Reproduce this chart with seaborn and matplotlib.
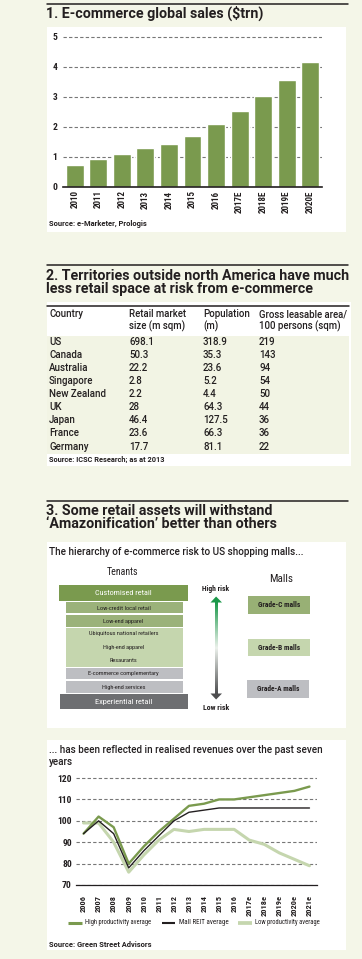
import matplotlib
matplotlib.use("Agg")
import matplotlib.pyplot as plt
from matplotlib.patches import Rectangle, Polygon
from matplotlib.colors import LinearSegmentedColormap
from matplotlib import font_manager
import numpy as np
import pandas as pd
import seaborn as sns

# --- chart 1: e-commerce global sales ($trn)
sales_years = ["2010", "2011", "2012", "2013", "2014", "2015", "2016",
               "2017E", "2018E", "2019E", "2020E"]
sales_trn = [0.73, 0.93, 1.1, 1.3, 1.43, 1.7, 2.1, 2.53, 3.04, 3.56, 4.17]

# --- chart 2: retail space table
table_headers = ["Country", "Retail market\nsize (m sqm)", "Population\n(m)",
                 "Gross leasable area/\n100 persons (sqm)"]
countries = ["US", "Canada", "Australia", "Singapore", "New Zealand", "UK",
             "Japan", "France", "Germany"]
retail_size = ["698.1", "50.3", "22.2", "2.8", "2.2", "28", "46.4", "23.6", "17.7"]
population = ["318.9", "35.3", "23.6", "5.2", "4.4", "64.3", "127.5", "66.3", "81.1"]
gla_per_100 = ["219", "143", "94", "54", "50", "44", "36", "36", "22"]

# --- chart 3a: risk hierarchy
tenant_tiers = ["Customised retail", "Low-credit local retail", "Low-end apparel",
                "Ubiquitous national retailers", "High-end apparel", "Resaurants",
                "E-commerce complementary", "High-end services", "Experiential retail"]
mall_grades = ["Grade-C malls", "Grade-B malls", "Grade-A malls"]

# --- chart 3b: realised revenues
rev_years = ["2006", "2007", "2008", "2009", "2010", "2011", "2012", "2013", "2014",
             "2015", "2016", "2017e", "2018e", "2019e", "2020e", "2021e"]
high_prod = [94, 102, 97, 80, 88, 95, 101, 107, 108, 110, 110, 111, 112, 113, 114, 116]
mall_reit = [94, 100, 94, 78, 86, 93, 100, 104, 105, 106, 106, 106, 106, 106, 106, 106]
low_prod = [99, 99, 90, 76, 84, 91, 96, 95, 96, 96, 96, 91, 89, 85, 82, 79]

GREEN = "#7A9A4E"
MID_GREEN = "#9BB27A"
LIGHT_GREEN = "#C5D6AE"
GREY = "#BDBEC2"
DARK_GREY = "#6D6E71"
INK = "#231F20"
PAGE = "#F4F6E8"

sns.set_style("white")
plt.rcParams["font.family"] = ["Roboto", "DejaVu Sans"]
names = {f.name for f in font_manager.fontManager.ttflist}
NARROW = next((n for n in ["Liberation Sans Narrow", "Roboto Condensed",
                           "Open Sans Condensed", "Roboto"] if n in names), "DejaVu Sans")

W, H = 362, 959
fig = plt.figure(figsize=(W / 100, H / 100), dpi=100, facecolor=PAGE)
renderer = fig.canvas.get_renderer()


def px_axes(x0, y0, x1, y1):
    return fig.add_axes([x0 / W, 1 - y1 / H, (x1 - x0) / W, (y1 - y0) / H])


# background layer in pixel coordinates
bg = fig.add_axes([0, 0, 1, 1])
bg.set_facecolor(PAGE)
bg.set_xlim(0, W)
bg.set_ylim(H, 0)
bg.axis("off")


def fit(x, y, s, width, **kw):
    """place text and scale its size so it spans `width` pixels"""
    t = bg.text(x, y, s, **kw)
    w = t.get_window_extent(renderer).width
    t.set_fontsize(t.get_fontsize() * width / w)
    return t


def fitted_size(s, width, **kw):
    t = fit(100, 100, s, width, **kw)
    size = t.get_fontsize()
    t.remove()
    return size


for (x0, y0, x1, y1) in [(47, 27, 346, 232), (47, 302, 351, 466),
                         (47, 542, 346, 728), (47, 740, 346, 950)]:
    bg.add_patch(Rectangle((x0, y0), x1 - x0, y1 - y0, color="white", lw=0))
bg.add_patch(Rectangle((47, 336), 302, 118, color="#F2F4E4", lw=0))

for y in [3.5, 265, 501]:
    bg.plot([47, 348], [y, y], color=INK, lw=1.1)

tkw = dict(fontsize=10, fontweight="bold", color=INK, va="center", ha="left")
tkw["fontsize"] = fitted_size("2. Territories outside north America have much", 302, **tkw)
bg.text(46, 13.5, "1. E-commerce global sales ($trn)", **tkw)
bg.text(46, 276, "2. Territories outside north America have much", **tkw)
bg.text(46, 288.5, "less retail space at risk from e-commerce", **tkw)
bg.text(46, 511, "3. Some retail assets will withstand", **tkw)
bg.text(46, 523.5, "\u2018Amazonification\u2019 better than others", **tkw)

skw = dict(fontsize=6, fontweight="bold", color=INK, va="center", ha="left")
fit(49, 224, "Source: e-Marketer, Prologis", 98, **skw)
fit(49, 460, "Source: ICSC Research; as at 2013", 116, **skw)
fit(49, 945, "Source: Green Street Advisors", 102, **skw)

# table
bg.plot([47, 349], [306, 306], color=INK, lw=1.1)
col_x = [49, 129, 203, 259]
hkw = dict(fontsize=7, fontweight="medium", color=INK, va="top", ha="left",
           linespacing=1.2)
hkw["fontsize"] = fitted_size(table_headers[3], 89, **hkw)
for cx, head in zip(col_x, table_headers):
    bg.text(cx, 309, head, **hkw)
row_size = fitted_size("New Zealand", 57, fontsize=7, fontweight="medium")
row_y0, row_dy = 341.8, 13.1
for i, row in enumerate(zip(countries, retail_size, population, gla_per_100)):
    for cx, cell in zip(col_x, row):
        bg.text(cx, row_y0 + i * row_dy, cell, fontsize=row_size, fontweight="medium",
                color=INK, va="center", ha="left")

# hierarchy diagram
fit(49, 552, "The hierarchy of e-commerce risk to US shopping malls...", 256,
    fontsize=7, fontweight="medium", color=INK, va="center")
nkw = dict(fontsize=8, color=INK, ha="center", va="center", family=NARROW)
fit(122, 572, "Tenants", 32, **nkw)
fit(281, 579, "Malls", 24, **nkw)

tier_boxes = [(59, 585, 188, 601, GREEN), (66, 602, 183, 613, MID_GREEN),
              (66, 615, 183, 627, MID_GREEN), (66, 628, 183, 667, LIGHT_GREEN),
              (66, 668, 183, 679, GREY), (66, 681, 183, 693, GREY),
              (60, 694, 188, 709, DARK_GREY)]
for (x0, y0, x1, y1, fc) in tier_boxes:
    bg.add_patch(Rectangle((x0, y0), x1 - x0, y1 - y0, color=fc, lw=0))

tier_text = [(593, 57, "white"), (608, 55, INK), (621, 41, INK), (634, 70, INK),
             (647, 42, INK), (660, 28, INK), (674, 71, INK), (687, 44, INK),
             (702, 58, "white")]
for label, (ty, tw, tc) in zip(tenant_tiers, tier_text):
    fit(123.5, ty, label, tw, fontsize=6, color=tc, ha="center", va="center",
        family=NARROW)

mall_boxes = [(248, 596, 310, 614, "#98B075"), (248, 639, 310, 656, LIGHT_GREEN),
              (247, 680, 309, 698, GREY)]
for label, (x0, y0, x1, y1, fc) in zip(mall_grades, mall_boxes):
    bg.add_patch(Rectangle((x0, y0), x1 - x0, y1 - y0, color=fc, lw=0))
    fit((x0 + x1) / 2, (y0 + y1) / 2, label, 42, fontsize=6, fontweight="bold",
        color=INK, ha="center", va="center", family=NARROW)

# risk arrow
cmap = LinearSegmentedColormap.from_list("risk", ["#1A9849", "#ECF1EC", "#4D4D4F"])
grad = np.linspace(0, 1, 200).reshape(-1, 1)
bg.imshow(grad, cmap=cmap, aspect="auto", origin="upper", zorder=3,
          extent=(214.6, 217.6, 694, 602))
bg.set_xlim(0, W)
bg.set_ylim(H, 0)
bg.add_patch(Polygon([(210.5, 602.5), (222, 602.5), (216.1, 596.5)],
                     color="#1A9849", lw=0, zorder=4))
bg.add_patch(Polygon([(210.5, 693.5), (222, 693.5), (216.1, 699.5)],
                     color="#4D4D4F", lw=0, zorder=4))
rkw = dict(fontsize=6, fontweight="bold", color=INK, ha="center", va="center",
           family=NARROW)
fit(216, 589, "High risk", 27, **rkw)
fit(216, 707, "Low risk", 26, **rkw)

sub_size = fitted_size("... has been reflected in realised revenues over the past seven",
                       274, fontsize=7, fontweight="medium")
bg.text(49, 750, "... has been reflected in realised revenues over the past seven",
        fontsize=sub_size, fontweight="medium", color=INK, va="center")
bg.text(49, 762, "years", fontsize=sub_size, fontweight="medium", color=INK, va="center")

# --- bar chart
ax1 = px_axes(63, 35.5, 322, 187)
sns.barplot(x=sales_years, y=sales_trn, color=GREEN, saturation=1, width=0.76, ax=ax1)
ax1.set_ylim(0, 5.05)
ax1.set_yticks(range(6))
ax1.yaxis.grid(True, ls=(0, (3, 2)), color="#777777", lw=0.8)
ax1.set_axisbelow(True)
ax1.patch.set_alpha(0)
for s in ["left", "right", "top"]:
    ax1.spines[s].set_visible(False)
ax1.spines["bottom"].set_color(INK)
ax1.spines["bottom"].set_linewidth(1.2)
ax1.tick_params(axis="y", length=0, pad=4, labelsize=6.8, labelcolor=INK)
ax1.tick_params(axis="x", length=0, pad=2.5, labelsize=6.5, labelcolor=INK, rotation=90)
for lab in ax1.get_xticklabels() + ax1.get_yticklabels():
    lab.set_family(NARROW)
    lab.set_fontweight("bold")
ax1.set_xlabel("")
ax1.set_ylabel("")

# --- line chart
rev = pd.DataFrame({
    "year": rev_years * 3,
    "value": low_prod + high_prod + mall_reit,
    "series": (["Low productivity average"] * len(rev_years)
               + ["High productivity average"] * len(rev_years)
               + ["Mall REIT average"] * len(rev_years)),
})
palette = {"High productivity average": GREEN, "Mall REIT average": INK,
           "Low productivity average": LIGHT_GREEN}
widths = {"High productivity average": 1.7, "Mall REIT average": 1.0,
          "Low productivity average": 2.2}
ax2 = px_axes(76, 775.9, 317, 885)
sns.lineplot(data=rev, x="year", y="value", hue="series", size="series",
             palette=palette, sizes=widths, legend=False, ax=ax2,
             hue_order=["Low productivity average", "High productivity average",
                        "Mall REIT average"])
ax2.set_xlim(-0.5, len(rev_years) - 0.5)
ax2.set_ylim(70, 121)
ax2.set_yticks(range(70, 121, 10))
ax2.yaxis.grid(True, ls=(0, (3, 2)), color="#777777", lw=0.8)
ax2.set_axisbelow(True)
ax2.patch.set_alpha(0)
for s in ["left", "right", "top"]:
    ax2.spines[s].set_visible(False)
ax2.spines["bottom"].set_color(INK)
ax2.spines["bottom"].set_linewidth(0.9)
ax2.tick_params(axis="y", length=0, pad=3, labelsize=6.8, labelcolor=INK)
ax2.tick_params(axis="x", length=0, pad=7, labelsize=6.0, labelcolor=INK, rotation=90)
for lab in ax2.get_xticklabels() + ax2.get_yticklabels():
    lab.set_family(NARROW)
    lab.set_fontweight("bold")
ax2.set_xlabel("")
ax2.set_ylabel("")

# legend, laid out like the print original
leg_order = ["High productivity average", "Mall REIT average", "Low productivity average"]
leg_pos = [(68, 82, 85, 67), (162, 175, 179, 50), (238, 252, 255, 65)]
for key, (hx0, hx1, tx, tw) in zip(leg_order, leg_pos):
    bg.plot([hx0, hx1], [923, 923], color=palette[key], lw=widths[key] + 0.5,
            solid_capstyle="butt")
    fit(tx, 923, key, tw, fontsize=6, color=INK, va="center", ha="left", family=NARROW)

fig.savefig("out.png", dpi=100, facecolor=PAGE)
